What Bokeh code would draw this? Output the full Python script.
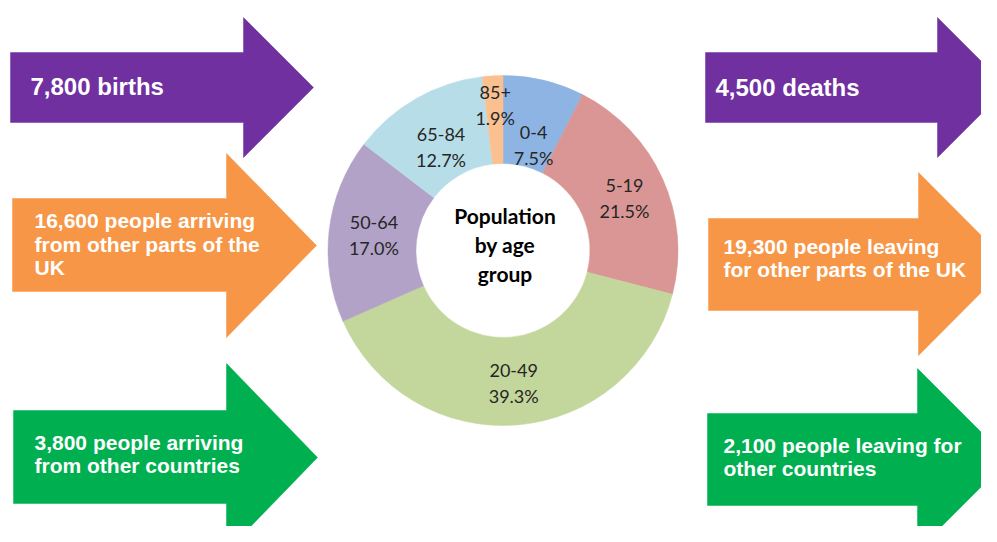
import numpy as np
from bokeh.plotting import figure
from bokeh.models import Range1d, ColumnDataSource
from bokeh.embed import file_html
from bokeh.resources import INLINE
from bokeh.core.properties import value

# ---------------- data ----------------
age_groups = ["0-4", "5-19", "20-49", "50-64", "65-84", "85+"]
age_share = [7.5, 21.5, 39.3, 17.0, 12.7, 1.9]
age_colors = ["#8EB4E3", "#D99694", "#C3D69B", "#B3A2C7", "#B7DEE8", "#FAC090"]

inflow_labels = ["7,800 births",
                 "16,600 people arriving\nfrom other parts of the\nUK",
                 "3,800 people arriving\nfrom other countries"]
outflow_labels = ["4,500 deaths",
                  "19,300 people leaving\nfor other parts of the UK",
                  "2,100 people leaving for\nother countries"]
flow_colors = ["#7030A0", "#F79646", "#00B050"]
center_title = ["Population", "by age", "group"]

# ---------------- layout (page pixels) ----------------
PAGE_H = 542
W, H = 981, 526


def Y(py):
    return PAGE_H - py


p = figure(width=W, height=H, output_backend="svg", toolbar_location=None,
           x_range=Range1d(0, W), y_range=Range1d(PAGE_H - H, PAGE_H),
           min_border=0, outline_line_color=None, background_fill_color="white",
           border_fill_color="white")
p.axis.visible = False
p.grid.visible = False

# arrows: (x_body_left, x_head_start, x_tip, body_top, body_bottom, head_top, head_bottom)
in_geom = [(10, 243, 313, 52, 122, 17, 157),
           (12, 226, 316, 198, 291, 153, 337),
           (13, 226, 317, 410, 503, 363, 551)]
out_geom = [(705, 937, 1007, 52, 122, 17, 157),
            (708, 918, 1009, 218, 310, 172, 355),
            (707, 917, 1008, 413, 505, 368, 550)]
# text: (x_left, block_center_y, font_px)
in_text = [(30, 86, 24), (34, 243.5, 21), (34, 453.5, 21)]
out_text = [(715, 87, 24), (723, 257.5, 21), (723, 456.5, 21)]

xs, ys, cols = [], [], []
for geom_set in (in_geom, out_geom):
    for g, c in zip(geom_set, flow_colors):
        x0, x1, x2, bt, bb, ht, hb = g
        ty = (ht + hb) / 2
        xs.append([x0, x1, x1, x2, x1, x1, x0])
        ys.append([Y(v) for v in [bt, bt, ht, ty, hb, bb, bb]])
        cols.append(c)
p.patches(xs="xs", ys="ys", fill_color="cols", line_color="cols", line_width=0.5,
          source=ColumnDataSource(dict(xs=xs, ys=ys, cols=cols)))

tx, ty_, tt, ts = [], [], [], []
for labels, tpos in ((inflow_labels, in_text), (outflow_labels, out_text)):
    for lab, (x, cy, fs) in zip(labels, tpos):
        lines = lab.split("\n")
        sp = fs * 1.12
        for i, ln in enumerate(lines):
            tx.append(x)
            ty_.append(Y(cy + (i - (len(lines) - 1) / 2) * sp))
            tt.append(ln)
            ts.append(f"{fs}px")
p.text(x="x", y="y", text="t", text_font_size="fs", source=ColumnDataSource(dict(x=tx, y=ty_, t=tt, fs=ts)),
       text_font=value("Liberation Sans"), text_font_style="bold", text_color="white",
       text_align="left", text_baseline="middle")

# ---------------- donut ----------------
cx, cy = 502.5, 250
r_in, r_out = 87, 175
share = np.array(age_share)
frac = share / share.sum()
end_cw = np.cumsum(frac) * 360
start_cw = end_cw - frac * 360
start_math = np.radians(90 - end_cw)
end_math = np.radians(90 - start_cw)
p.annular_wedge(x=cx, y=Y(cy), inner_radius=r_in, outer_radius=r_out,
                start_angle="s", end_angle="e", fill_color="c", line_color="c", line_width=0.5,
                source=ColumnDataSource(dict(s=start_math, e=end_math, c=age_colors)))

# label offsets (page px) for readability
lab_off = [(0, 22), (2, 2), (0, 2), (1, 0), (3, 11), (0, -14.5)]
mid = np.radians((start_cw + end_cw) / 2)
rm = (r_in + r_out) / 2
lx, ly, lt = [], [], []
for g, s, m, (dx, dy) in zip(age_groups, age_share, mid, lab_off):
    px = cx + rm * np.sin(m) + dx
    py = cy - rm * np.cos(m) + dy
    for i, ln in enumerate([g, f"{s:.1f}%"]):
        lx.append(px)
        ly.append(Y(py + (i - 0.5) * 25.5))
        lt.append(ln)
p.text(x="x", y="y", text="t", source=ColumnDataSource(dict(x=lx, y=ly, t=lt)),
       text_font=value("Lato"), text_font_size="18px", text_color="#262626",
       text_align="center", text_baseline="middle")

ctx = [cx + 2] * 3
cty = [Y(cy - 6 + (i - 1) * 29) for i in range(3)]
p.text(x=ctx, y=cty, text=center_title, text_font=value("Lato"), text_font_size="21px",
       text_font_style="bold", text_color="black", text_align="center", text_baseline="middle")

open("out.html", "w").write(file_html(p, INLINE))
